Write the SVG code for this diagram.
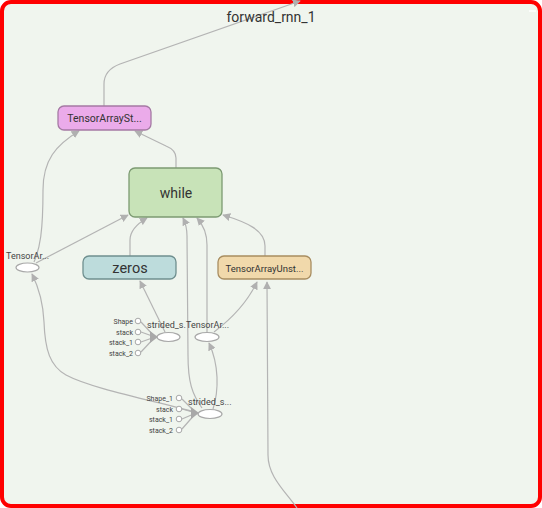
<svg xmlns="http://www.w3.org/2000/svg" width="542" height="508" viewBox="0 0 542 508">
<defs>
<marker id="arr" viewBox="0 0 10 10" refX="9" refY="5" markerWidth="8" markerHeight="8" markerUnits="userSpaceOnUse" orient="auto">
<path d="M0,0 L10,5 L0,10 z" fill="#b0b0b0"/>
</marker>
</defs>
<style>
.edge{fill:none;stroke:#b4b4b4;stroke-width:1.2}
.fan{fill:none;stroke:#b4b4b4;stroke-width:1.2}
.node{stroke-width:1.3}
.t{font-family:Roboto,"Liberation Sans",sans-serif;fill:#333}
.lbl{font-family:Roboto,"Liberation Sans",sans-serif;fill:#444;font-size:9px}
.sm{font-family:Roboto,"Liberation Sans",sans-serif;fill:#444;font-size:7px;text-anchor:end}
.ell{fill:#fff;stroke:#a8a8a8;stroke-width:1.2}
.cir{fill:#fff;stroke:#a8a8a8;stroke-width:1}
</style>
<rect x="2" y="2" width="538" height="504" rx="9" fill="#f0f5ee" stroke="#ff0000" stroke-width="4"/>
<line x1="529" y1="11" x2="536" y2="11" stroke="#ffffff" stroke-width="1.5"/>

<g id="connectors">
<path class="edge" d="M104,106 V84 Q104,70 120,64 L300,1" marker-end="url(#arr)"/>
<path class="edge" d="M176,168 V158 Q176,150 166,146 L135,131" marker-end="url(#arr)"/>
<path class="edge" d="M34,262 C40,248 43,232 43,190 C43,160 56,145 79,131" marker-end="url(#arr)"/>
<path class="edge" d="M36,263 L128,215" marker-end="url(#arr)"/>
<path class="edge" d="M130,256 V240 Q130,228 147,218" marker-end="url(#arr)"/>
<path class="edge" d="M165,332 L140,281" marker-end="url(#arr)"/>
<path class="edge" d="M202,408 C192,394 188,382 188,355 L187,236 Q187,226 183,218" marker-end="url(#arr)"/>
<path class="edge" d="M207,332 L207,245 Q207,229 197,218" marker-end="url(#arr)"/>
<path class="edge" d="M213,409 C219,390 219,365 209,343" marker-end="url(#arr)"/>
<path class="edge" d="M214,332 C230,320 246,305 257,282" marker-end="url(#arr)"/>
<path class="edge" d="M297,508 C284,490 268,476 268,455 L267,282" marker-end="url(#arr)"/>
<path class="edge" d="M265,256 V246 C265,230 246,222 223,215" marker-end="url(#arr)"/>
<path class="edge" d="M195,412 C150,400 90,388 66,375 C50,366 45,350 44,322 C43,300 38,286 32,274" marker-end="url(#arr)"/>
<!-- fan-in top -->
<path class="fan" d="M141,322 L155,337 M141,332 L155,337 M141,342 L155,337 M141,352 L155,337 M155,337 L157,337"/>
<polygon points="150,331 158,337 150,343" fill="#a8a8a8"/>
<!-- fan-in bottom -->
<path class="fan" d="M182,399 L196,413 M182,409 L196,413 M182,419 L196,413 M182,429 L196,413"/>
<polygon points="191,407 199,413 191,419" fill="#a8a8a8"/>
</g>

<text class="t" x="271" y="22" font-size="14" text-anchor="middle">forward_rnn_1</text>

<g id="TensorArrayStack">
<rect class="node" x="58" y="106" width="93" height="24" rx="6" fill="#ebabea" stroke="#a57aa4"/>
<text class="t" x="104.5" y="122" font-size="10.5" text-anchor="middle">TensorArraySt...</text>
</g>
<g id="while">
<rect class="node" x="129" y="168" width="93" height="49" rx="6" fill="#c8e3b8" stroke="#7c9a72"/>
<text class="t" x="176" y="198" font-size="14" text-anchor="middle">while</text>
</g>
<g id="zeros">
<rect class="node" x="83" y="256" width="93" height="23" rx="6" fill="#bddcdc" stroke="#6f8f8f"/>
<text class="t" x="130" y="273" font-size="14.5" text-anchor="middle">zeros</text>
</g>
<g id="TensorArrayUnstack">
<rect class="node" x="218" y="256" width="93" height="23" rx="6" fill="#f1d9ab" stroke="#a88d60"/>
<text class="t" x="264.5" y="271.5" font-size="9.5" text-anchor="middle">TensorArrayUnst...</text>
</g>
<g id="TensorArray">
<ellipse class="ell" cx="27.5" cy="267.5" rx="11.5" ry="4.5"/>
<text class="lbl" x="6" y="259">TensorAr...</text>
</g>
<g id="strided_slice">
<ellipse class="ell" cx="168.5" cy="337" rx="11.5" ry="4.5"/>
<text class="lbl" x="147" y="328">strided_s.</text>
</g>
<g id="TensorArray_1">
<ellipse class="ell" cx="207" cy="337" rx="12" ry="4.5"/>
<text class="lbl" x="186" y="328">TensorAr...</text>
</g>
<g id="strided_slice_1">
<ellipse class="ell" cx="210" cy="414" rx="12" ry="4.5"/>
<text class="lbl" x="188" y="405">strided_s...</text>
</g>
<g id="inputs_top">
<circle class="cir" cx="138" cy="321" r="2.8"/>
<circle class="cir" cx="138" cy="332" r="2.8"/>
<circle class="cir" cx="138" cy="342" r="2.8"/>
<circle class="cir" cx="138" cy="353" r="2.8"/>
<text class="sm" x="133" y="323.5">Shape</text>
<text class="sm" x="133" y="334.5">stack</text>
<text class="sm" x="133" y="344.5">stack_1</text>
<text class="sm" x="133" y="355.5">stack_2</text>
</g>
<g id="inputs_bottom">
<circle class="cir" cx="179" cy="398" r="2.8"/>
<circle class="cir" cx="179" cy="409" r="2.8"/>
<circle class="cir" cx="179" cy="419" r="2.8"/>
<circle class="cir" cx="179" cy="430" r="2.8"/>
<text class="sm" x="173" y="400.5">Shape_1</text>
<text class="sm" x="173" y="411.5">stack</text>
<text class="sm" x="173" y="421.5">stack_1</text>
<text class="sm" x="173" y="432.5">stack_2</text>
</g>
</svg>
